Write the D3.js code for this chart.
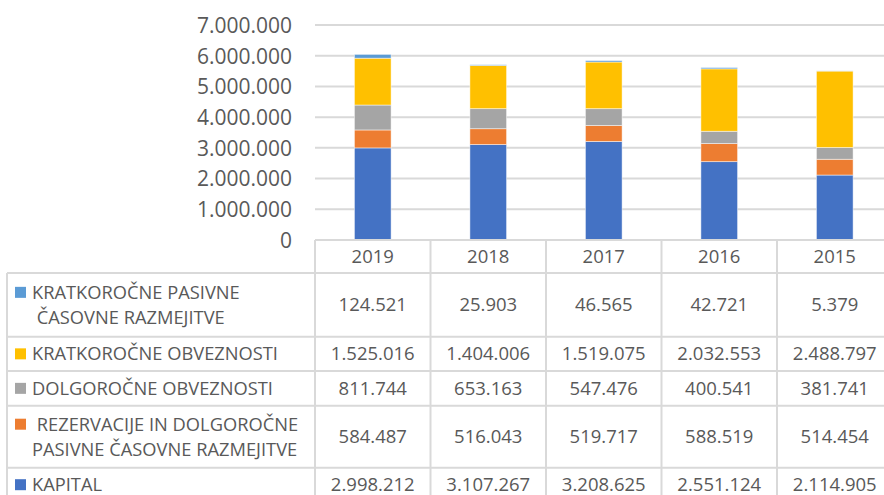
<!DOCTYPE html>
<html>
<head>
<meta charset="utf-8">
<script src="https://cdn.jsdelivr.net/npm/d3@7"></script>
<style>
  html, body { margin: 0; padding: 0; background: #fff; }
  svg { display: block; }
  text { font-family: "Open Sans", sans-serif; fill: #595959; }
</style>
</head>
<body>
<div id="chart"></div>
<script>
// Data
var years = ["2019", "2018", "2017", "2016", "2015"];
var kapital = [2998212, 3107267, 3208625, 2551124, 2114905];
var rezervacije = [584487, 516043, 519717, 588519, 514454];
var dolgObveznosti = [811744, 653163, 547476, 400541, 381741];
var kratkObveznosti = [1525016, 1404006, 1519075, 2032553, 2488797];
var kratkPasivne = [124521, 25903, 46565, 42721, 5379];

var seriesNames = [
  ["KAPITAL"],
  [" REZERVACIJE IN DOLGOROČNE", "PASIVNE ČASOVNE RAZMEJITVE"],
  ["DOLGOROČNE OBVEZNOSTI"],
  ["KRATKOROČNE OBVEZNOSTI"],
  ["KRATKOROČNE PASIVNE", " ČASOVNE RAZMEJITVE"]
];
var seriesValues = [kapital, rezervacije, dolgObveznosti, kratkObveznosti, kratkPasivne];
var seriesColors = ["#4472C4", "#ED7D31", "#A5A5A5", "#FFC000", "#5B9BD5"];
var yTicks = [0, 1000000, 2000000, 3000000, 4000000, 5000000, 6000000, 7000000];

// Layout
var svgWidth = 884, svgHeight = 495;
var plotLeft = 315, colWidth = 115.5;
var plotTop = 25, plotBottom = 240;
var tableLeft = 7;
var headerBottom = 273;
var rowHeights = [63.7, 34.3, 34.7, 62, 34]; // table rows, top to bottom
var gridColor = "#D9D9D9";

var svg = d3.select("#chart").append("svg")
  .attr("width", svgWidth)
  .attr("height", svgHeight);

var loc = d3.formatLocale({decimal: ",", thousands: ".", grouping: [3], currency: ["", ""]});
var fmt = loc.format(",d");

var x = d3.scaleBand()
  .domain(years)
  .range([plotLeft, plotLeft + colWidth * years.length])
  .padding(0);

var y = d3.scaleLinear()
  .domain([0, 7000000])
  .range([plotBottom, plotTop]);

// gridlines
svg.append("g").selectAll("line")
  .data(yTicks.filter(function(d){ return d > 0; }))
  .enter().append("line")
  .attr("x1", plotLeft).attr("x2", svgWidth + 20)
  .attr("y1", function(d){ return y(d); })
  .attr("y2", function(d){ return y(d); })
  .attr("stroke", gridColor)
  .attr("stroke-width", 2);

// y axis labels
var yAxis = d3.axisLeft(y).tickValues(yTicks).tickFormat(fmt).tickSize(0).tickPadding(0);
var yg = svg.append("g")
  .attr("transform", "translate(292,0)")
  .call(yAxis);
yg.select(".domain").remove();
yg.selectAll("text")
  .attr("font-size", 21)
  .attr("font-family", "Open Sans, sans-serif")
  .attr("fill", "#595959")
  .attr("dy", "0.35em");

// stacked bars
var stackData = years.map(function(yr, i){
  var row = {year: yr};
  seriesValues.forEach(function(vals, s){ row["s" + s] = vals[i]; });
  return row;
});
var stack = d3.stack().keys(seriesValues.map(function(v, s){ return "s" + s; }));
var stacked = stack(stackData);

var barW = 36.7;
svg.append("g").selectAll("g")
  .data(stacked)
  .enter().append("g")
  .attr("fill", function(d, i){ return seriesColors[i]; })
  .selectAll("rect")
  .data(function(d){ return d; })
  .enter().append("rect")
  .attr("x", function(d){ return x(d.data.year) + x.bandwidth() / 2 - barW / 2; })
  .attr("width", barW)
  .attr("y", function(d){ return y(d[1]); })
  .attr("height", function(d){ return y(d[0]) - y(d[1]); })
  .attr("stroke", "#ffffff")
  .attr("stroke-opacity", 0.6)
  .attr("stroke-width", 0.8);

// data table
var tbl = svg.append("g");
var tableRight = plotLeft + colWidth * years.length;

// row boundaries
var rowTops = [headerBottom];
rowHeights.forEach(function(h, i){ rowTops.push(rowTops[i] + h); });

// horizontal lines
tbl.append("line")
  .attr("x1", plotLeft).attr("x2", tableRight)
  .attr("y1", plotBottom).attr("y2", plotBottom)
  .attr("stroke", gridColor).attr("stroke-width", 2);
tbl.selectAll("line.h")
  .data(rowTops)
  .enter().append("line")
  .attr("class", "h")
  .attr("x1", tableLeft).attr("x2", tableRight)
  .attr("y1", function(d){ return d; }).attr("y2", function(d){ return d; })
  .attr("stroke", gridColor).attr("stroke-width", 2);

// vertical lines
tbl.append("line")
  .attr("x1", tableLeft).attr("x2", tableLeft)
  .attr("y1", headerBottom).attr("y2", svgHeight + 10)
  .attr("stroke", gridColor).attr("stroke-width", 2);
tbl.selectAll("line.v")
  .data(years.concat(["end"]))
  .enter().append("line")
  .attr("class", "v")
  .attr("x1", function(d, i){ return plotLeft + i * colWidth; })
  .attr("x2", function(d, i){ return plotLeft + i * colWidth; })
  .attr("y1", plotBottom).attr("y2", svgHeight + 10)
  .attr("stroke", gridColor).attr("stroke-width", 2);

// year headers
tbl.selectAll("text.year")
  .data(years)
  .enter().append("text")
  .attr("class", "year")
  .attr("x", function(d){ return x(d) + x.bandwidth() / 2; })
  .attr("y", (plotBottom + headerBottom) / 2)
  .attr("dy", "0.35em")
  .attr("text-anchor", "middle")
  .attr("font-size", 18.5)
  .text(function(d){ return d; });

// table rows (top series first)
var order = [4, 3, 2, 1, 0];
order.forEach(function(s, r){
  var top = rowTops[r], h = rowHeights[r];
  var lines = seriesNames[s];
  var lineH = 25;
  var firstY = top + h / 2 - (lines.length - 1) * lineH / 2;

  tbl.append("rect")
    .attr("x", 15).attr("width", 11)
    .attr("y", firstY - 5.5).attr("height", 11)
    .attr("fill", seriesColors[s]);

  lines.forEach(function(line, li){
    tbl.append("text")
      .attr("xml:space", "preserve")
      .attr("x", 32)
      .attr("y", firstY + li * lineH)
      .attr("dy", "0.35em")
      .attr("font-size", 18.3)
      .text(line);
  });

  tbl.selectAll(null)
    .data(seriesValues[s])
    .enter().append("text")
    .attr("x", function(d, i){ return x(years[i]) + x.bandwidth() / 2; })
    .attr("y", top + h / 2)
    .attr("dy", "0.35em")
    .attr("text-anchor", "middle")
    .attr("font-size", 18.5)
    .text(function(d){ return fmt(d); });
});
</script>
</body>
</html>
